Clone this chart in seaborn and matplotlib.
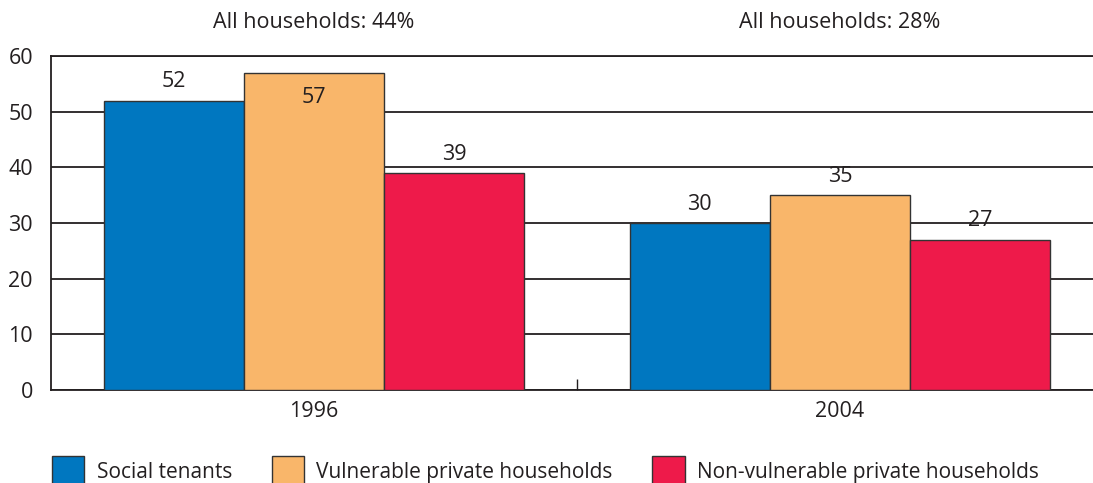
import numpy as np
import pandas as pd
import seaborn as sns
import matplotlib.pyplot as plt

years = ['1996', '2004']
groups = ['Social tenants', 'Vulnerable private households',
          'Non-vulnerable private households']
social = [52, 30]
vulnerable = [57, 35]
non_vulnerable = [39, 27]
all_households = ['All households: 44%', 'All households: 28%']
colors = ['#0077c0', '#f9b66a', '#ee1a4a']

df = pd.DataFrame({
    'year': years * 3,
    'group': np.repeat(groups, len(years)),
    'value': social + vulnerable + non_vulnerable,
})

sns.set_style('white')
plt.rcParams['font.family'] = ['Open Sans', 'DejaVu Sans']
plt.rcParams['font.size'] = 15

fig = plt.figure(figsize=(10.93, 4.83), dpi=100)
ax = fig.add_axes([51 / 1093, 93 / 483, 1052 / 1093, 334 / 483])

sns.barplot(data=df, x='year', y='value', hue='group', order=years,
            hue_order=groups, palette=colors, width=0.8, saturation=1,
            edgecolor='#333333', linewidth=1, ax=ax, legend=True, zorder=3)

ax.set_ylim(0, 60)
ax.set_yticks(range(0, 61, 10))
ax.yaxis.grid(True, color='#231f20', linewidth=1.3, zorder=0)
ax.set_axisbelow(True)
ax.set_xlabel('')
ax.set_ylabel('')
ax.tick_params(axis='both', length=0, labelsize=15.5, colors='#231f20')
ax.tick_params(axis='y', pad=13)
ax.tick_params(axis='x', pad=8)
ax.set_xticks([0.5], minor=True)
ax.tick_params(axis='x', which='minor', bottom=True, direction='in',
               length=8, width=1, color='#231f20')
ax.spines['right'].set_visible(False)
for side in ['left', 'bottom', 'top']:
    ax.spines[side].set_color('#231f20')
    ax.spines[side].set_linewidth(1.3)

# value labels, inside the bar when it nearly touches the top
for cont in ax.containers:
    for bar in cont:
        h = bar.get_height()
        x = bar.get_x() + bar.get_width() / 2
        if h > 55:
            ax.annotate(f'{h:.0f}', (x, h), xytext=(0, -10),
                        textcoords='offset points', ha='center', va='top',
                        fontsize=15.5, color='#231f20')
        else:
            ax.annotate(f'{h:.0f}', (x, h), xytext=(0, 6),
                        textcoords='offset points', ha='center', va='bottom',
                        fontsize=15.5, color='#231f20')

for i, t in enumerate(all_households):
    ax.annotate(t, (i, 1.1), xycoords=('data', 'axes fraction'),
                ha='center', va='center', fontsize=15.5, color='#231f20')

handles, labels = ax.get_legend_handles_labels()
ax.get_legend().remove()
fig.legend(handles, labels, loc='center left',
           bbox_to_anchor=(33 / 1093, 1 - 471 / 483), ncol=3, frameon=False,
           fontsize=15, handlelength=1.55, handleheight=1.8,
           handletextpad=0.6, columnspacing=1.9, labelcolor='#231f20')

fig.savefig('out.png', dpi=100)
